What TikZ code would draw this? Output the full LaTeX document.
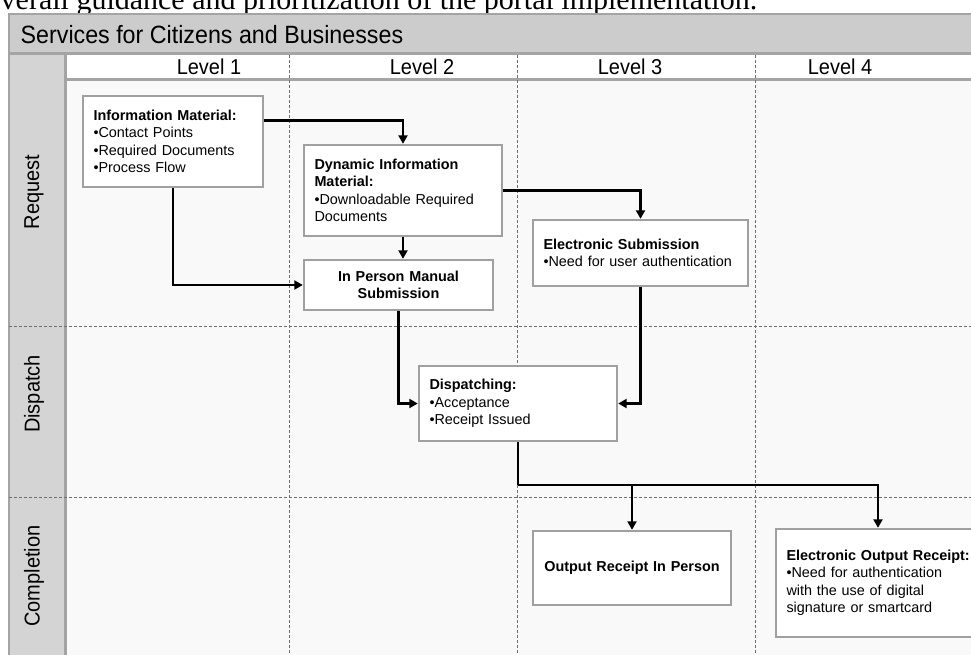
\documentclass[tikz,border=0pt]{standalone}
\usepackage{fontspec}
\setmainfont{Liberation Sans}
\newfontfamily\ttlserif{Liberation Serif}
\usetikzlibrary{arrows.meta}
\definecolor{hdr}{HTML}{CCCCCC}
\definecolor{sidecol}{HTML}{D4D4D4}
\definecolor{framecol}{HTML}{A4A4A4}
\definecolor{lanecol}{HTML}{F9F9F9}
\definecolor{boxcol}{HTML}{A0A0A0}
\definecolor{dashcol}{HTML}{6E6E6E}
\newcommand{\narrowtxt}[1]{\scalebox{0.93}[1]{#1}}
\tikzset{
  stepbox/.style={draw=boxcol, line width=2.4pt, fill=white, rectangle,
    inner xsep=10.5pt, inner ysep=0pt, align=left,
    font=\fontsize{14.4}{17.5}\selectfont},
  centbox/.style={stepbox, align=center},
  flowarrow/.style={draw=black, line width=2.8pt, line join=miter,
    -{Triangle[width=9pt,length=8.5pt]}},
  flowline/.style={draw=black, line width=2.8pt, line join=miter},
  lanedash/.style={draw=dashcol, line width=0.9pt, dash pattern=on 3pt off 2pt},
  framedge/.style={draw=framecol, line width=2.2pt},
  levellbl/.style={inner sep=0pt, anchor=base, font=\fontsize{21.5}{24}\selectfont},
  rowlbl/.style={inner sep=0pt, rotate=90, font=\fontsize{21.5}{24}\selectfont}
}
\begin{document}
\begin{tikzpicture}[x=1pt,y=-1pt]
\useasboundingbox (0,0) rectangle (971,655);
\begin{scope}
\clip (0,0) rectangle (971,655);
\fill[white] (0,0) rectangle (971,655);
% cut title line above
\node[anchor=base west, inner sep=0pt, font=\ttlserif\fontsize{30}{34}\selectfont] (ttl) at (-14.5,10)
  {overall guidance and prioritization of the portal implementation.};
% frame backgrounds
\fill[lanecol] (9,80) rectangle (980,665);
\fill[white] (65,53) rectangle (980,80);
\fill[hdr] (9,14) rectangle (980,53);
\fill[sidecol] (9,53) rectangle (65,665);
% frame edges
\draw[framedge] (9,665) -- (9,14) -- (980,14);
\draw[framedge] (9,53.5) -- (980,53.5);
\draw[framedge] (65,79.5) -- (980,79.5);
\draw[framedge] (65.5,53) -- (65.5,665);
% lane dividers
\draw[lanedash] (289,55) -- (289,665);
\draw[lanedash] (517,55) -- (517,665);
\draw[lanedash] (755,55) -- (755,665);
\draw[lanedash] (9,326) -- (980,326);
\draw[lanedash] (9,497) -- (980,497);
% header text
\node[anchor=base west, inner sep=0pt, font=\fontsize{25}{28}\selectfont] (hdrtxt) at (20.5,44)
  {\narrowtxt{Services for Citizens and Businesses}};
\node[levellbl] (lv1) at (209,75) {\narrowtxt{Level 1}};
\node[levellbl] (lv2) at (422,75) {\narrowtxt{Level 2}};
\node[levellbl] (lv3) at (630,75) {\narrowtxt{Level 3}};
\node[levellbl] (lv4) at (840,75) {\narrowtxt{Level 4}};
\node[rowlbl] (rq) at (34,192) {\narrowtxt{Request}};
\node[rowlbl] (rd) at (34,394) {\narrowtxt{Dispatch}};
\node[rowlbl] (rc) at (34,576) {\narrowtxt{Completion}};
% boxes
\node[stepbox, text width=159pt, minimum height=91pt] (info) at (173,141.5)
  {\textbf{Information Material:}\\\mbox{•Contact Points}\\\mbox{•Required Documents}\\\mbox{•Process Flow}};
\node[stepbox, text width=177pt, minimum height=91pt] (dyn) at (403,190.5)
  {\textbf{Dynamic Information}\\\textbf{Material:}\\\mbox{•Downloadable Required}\\\mbox{Documents}};
\node[centbox, text width=168pt, minimum height=50pt] (inp) at (398.5,285)
  {\textbf{In Person Manual}\\\textbf{Submission}};
\node[stepbox, text width=194pt, minimum height=66pt] (esub) at (640.5,253)
  {\mbox{\textbf{Electronic Submission}}\\\mbox{•Need for user authentication}};
\node[stepbox, text width=177pt, minimum height=75pt] (disp) at (518,403.5)
  {\textbf{Dispatching:}\\\mbox{•Acceptance}\\\mbox{•Receipt Issued}};
\node[centbox, text width=177pt, minimum height=74pt] (outp) at (632,568)
  {\mbox{\textbf{Output Receipt In Person}}};
\node[stepbox, text width=183pt, minimum height=108pt] (eout) at (878,583)
  {\mbox{\textbf{Electronic Output Receipt:}}\\\mbox{•Need for authentication}\\\mbox{with the use of digital}\\\mbox{signature or smartcard}};
% connectors
\draw[flowarrow] ([yshift=20.8pt]info.east) -| (dyn.north);
\draw[flowarrow] (info.south) |- (inp.west);
\draw[flowarrow] (dyn.south) -- (dyn.south |- inp.north);
\draw[flowarrow] (dyn.east) -| (esub.north);
\draw[flowarrow] (inp.south) |- (disp.west);
\draw[flowarrow] (esub.south) |- (disp.east);
\coordinate (jn) at (518,485);
\draw[flowline] (disp.south) -- (jn);
\draw[flowarrow] (jn) -| (outp.north);
\draw[flowarrow] (jn) -| (eout.north);
\end{scope}
\end{tikzpicture}
\end{document}
